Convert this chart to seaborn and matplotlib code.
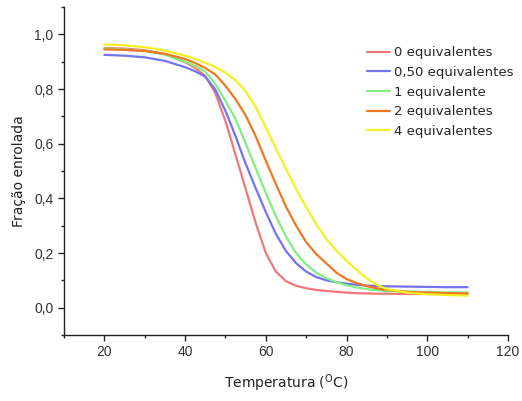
import pandas as pd
import numpy as np
import seaborn as sns
import matplotlib
matplotlib.use('Agg')
import matplotlib.pyplot as plt
from matplotlib.ticker import MultipleLocator, FuncFormatter

# values
temps = [20, 25, 30, 35, 40, 42.5, 45, 47.5, 50, 52.5, 55, 57.5, 60, 62.5, 65,
         67.5, 70, 72.5, 75, 77.5, 80, 82.5, 85, 87.5, 90, 95, 100, 105, 110]

eq_0 = [0.950, 0.948, 0.942, 0.928, 0.898, 0.877, 0.848, 0.785, 0.683, 0.560,
        0.435, 0.310, 0.200, 0.132, 0.097, 0.080, 0.071, 0.065, 0.061, 0.058,
        0.055, 0.053, 0.052, 0.051, 0.051, 0.050, 0.050, 0.050, 0.050]
eq_050 = [0.925, 0.922, 0.916, 0.903, 0.880, 0.865, 0.845, 0.798, 0.720, 0.628,
          0.527, 0.437, 0.350, 0.270, 0.207, 0.163, 0.132, 0.112, 0.100, 0.093,
          0.088, 0.084, 0.081, 0.079, 0.078, 0.077, 0.076, 0.075, 0.075]
eq_1 = [0.948, 0.945, 0.939, 0.926, 0.900, 0.884, 0.864, 0.818, 0.757, 0.690,
        0.602, 0.510, 0.420, 0.335, 0.260, 0.200, 0.158, 0.128, 0.108, 0.093,
        0.082, 0.074, 0.068, 0.064, 0.061, 0.059, 0.057, 0.056, 0.055]
eq_2 = [0.945, 0.943, 0.939, 0.929, 0.910, 0.895, 0.877, 0.853, 0.812, 0.763,
        0.704, 0.627, 0.538, 0.452, 0.370, 0.300, 0.240, 0.196, 0.162, 0.128,
        0.105, 0.090, 0.079, 0.071, 0.065, 0.058, 0.055, 0.053, 0.052]
eq_4 = [0.963, 0.960, 0.953, 0.941, 0.922, 0.910, 0.896, 0.880, 0.860, 0.832,
        0.791, 0.734, 0.660, 0.583, 0.508, 0.435, 0.368, 0.305, 0.252, 0.208,
        0.172, 0.138, 0.107, 0.084, 0.068, 0.055, 0.049, 0.046, 0.044]

labels = ['0 equivalentes', '0,50 equivalentes', '1 equivalente',
          '2 equivalentes', '4 equivalentes']
colors = ['#F07878', '#7373F0', '#80EE80', '#F07820', '#F5F020']

series = [eq_0, eq_050, eq_1, eq_2, eq_4]
frames = []
for lab, vals in zip(labels, series):
    frames.append(pd.DataFrame({'temp': temps, 'frac': vals, 'serie': lab}))
data = pd.concat(frames, ignore_index=True)

sns.set_style('ticks')
plt.rcParams['font.family'] = ['DejaVu Sans']

fig = plt.figure(figsize=(5.22, 4.01), dpi=100)
ax = fig.add_axes([0.1226, 0.1646, 0.8505, 0.8179])

sns.lineplot(data=data, x='temp', y='frac', hue='serie', hue_order=labels,
             palette=dict(zip(labels, colors)), linewidth=1.6, ax=ax)

ax.set_xlim(10, 120)
ax.set_ylim(-0.1, 1.1)
ax.xaxis.set_major_locator(MultipleLocator(20))
ax.xaxis.set_minor_locator(MultipleLocator(10))
ax.yaxis.set_major_locator(MultipleLocator(0.2))
ax.yaxis.set_minor_locator(MultipleLocator(0.1))
ax.yaxis.set_major_formatter(FuncFormatter(lambda v, p: f'{v:.1f}'.replace('.', ',')))
ax.xaxis.set_major_formatter(FuncFormatter(lambda v, p: f'{v:.0f}'))

for sp in ['top', 'right']:
    ax.spines[sp].set_visible(False)
for sp in ['left', 'bottom']:
    ax.spines[sp].set_color('#222222')
    ax.spines[sp].set_linewidth(1.0)

ax.tick_params(which='major', direction='out', length=4, width=1, color='#222222',
               labelsize=10, labelcolor='#333333')
ax.tick_params(which='minor', direction='out', length=2.5, width=1, color='#222222')
for t in ax.get_xticklabels() + ax.get_yticklabels():
    t.set_family('Liberation Sans')

ax.set_xlabel('Temperatura ($^{\\mathrm{O}}$C)', fontsize=10, color='#222222', labelpad=9)
ax.set_ylabel('Fração enrolada', fontsize=10, color='#222222', labelpad=6)

ax.legend(loc='upper left', bbox_to_anchor=(0.67, 0.896), frameon=False,
          fontsize=9.5, handlelength=1.8, handletextpad=0.3, labelspacing=0.5,
          borderaxespad=0)

fig.savefig('out.png', dpi=100)
